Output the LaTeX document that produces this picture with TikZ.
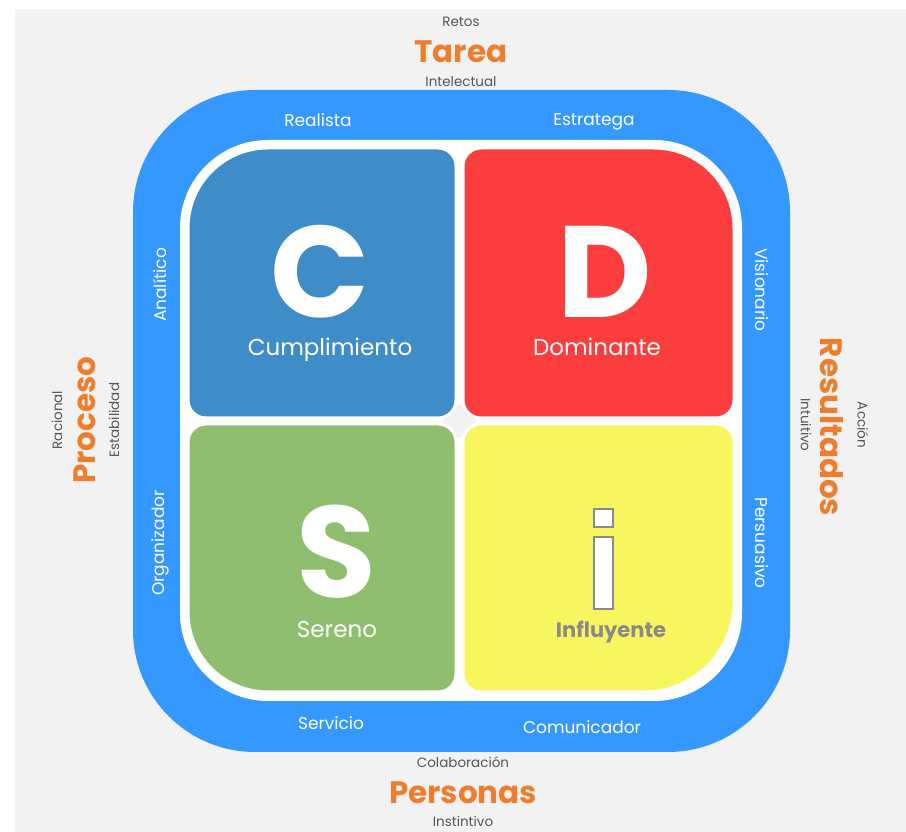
\documentclass[tikz,border=0pt]{standalone}
\usepackage{fontspec}
\setmainfont{Poppins}
\definecolor{bgc}{HTML}{F2F2F2}
\definecolor{ringc}{HTML}{3598FE}
\definecolor{cc}{HTML}{3E8DC9}
\definecolor{dc}{HTML}{FC3D3D}
\definecolor{sc}{HTML}{8FBE6E}
\definecolor{ic}{HTML}{F8F65E}
\definecolor{orc}{HTML}{EE7E2E}
\definecolor{grc}{HTML}{555555}
\definecolor{igr}{HTML}{8A8A8A}
% #1 x1, #2 ybottom, #3 x2, #4 ytop, #5 rTL, #6 rTR, #7 rBR, #8 rBL
\newcommand{\quadshape}[8]{(#1,{#2+#8}) -- (#1,{#4-#5}) arc[start angle=180,end angle=90,radius=#5pt] -- ({#3-#6},#4) arc[start angle=90,end angle=0,radius=#6pt] -- (#3,{#2+#7}) arc[start angle=0,end angle=-90,radius=#7pt] -- ({#1+#8},#2) arc[start angle=-90,end angle=-180,radius=#8pt] -- cycle}
\begin{document}
\begin{tikzpicture}[x=1pt,y=1pt,
  small/.style={text=grc,inner sep=0pt,font=\fontsize{13.5}{15}\selectfont},
  big/.style={text=orc,inner sep=0pt,font=\fontsize{31}{36}\selectfont\bfseries},
  ringlbl/.style={text=white,inner sep=0pt,font=\fontsize{17}{20}\selectfont},
  letter/.style={text=white,inner sep=0pt,anchor=base,text height=92pt,text depth=0pt,font=\fontsize{130}{140}\selectfont\bfseries},
  qlbl/.style={text=white,inner sep=0pt,text height=16pt,text depth=4pt,font=\fontsize{23}{26}\selectfont},
  quadbox/.style={draw=white,line width=3pt}]
\useasboundingbox (0,0) rectangle (906,832);
\fill[white] (0,0) rectangle (906,832);
\fill[bgc] (15,0) rectangle (906,823);
% outer ring
\fill[ringc, rounded corners=122pt] (133,80) rectangle (790,742);
\fill[white, rounded corners=88pt] (180,131) rectangle (742,692);
\fill[bgc] (459.5,411) circle (16pt);
% quadrants
\filldraw[fill=cc,quadbox] \quadshape{188}{414}{456}{684}{80}{18}{18}{18};
\filldraw[fill=dc,quadbox] \quadshape{463}{414}{734}{684}{18}{80}{18}{18};
\filldraw[fill=sc,quadbox] \quadshape{188}{140}{456}{408}{18}{18}{18}{80};
\filldraw[fill=ic,quadbox] \quadshape{463}{140}{734}{408}{18}{18}{90}{18};
% big letters
\node[letter] (lc) at (320,514) {C};
\node[letter] (ld) at (605,514) {D};
\node[letter] (ls) at (336,234) {S};
% the i
\filldraw[fill=white,draw=igr,line width=1.2pt] (594,305) rectangle (613,323);
\filldraw[fill=white,draw=igr,line width=1.2pt] (594,223) rectangle (613,295);
% quadrant labels
\node[qlbl] (tc) at (330,482) {Cumplimiento};
\node[qlbl] (td) at (597,482) {Dominante};
\node[qlbl] (ts) at (337,200) {Sereno};
\node[qlbl,text=igr,font=\fontsize{21}{24}\selectfont\bfseries] (ti) at (611,200) {Influyente};
% ring labels
\node[ringlbl] (r1) at (318,712) {Realista};
\node[ringlbl] (r2) at (594,710) {Estratega};
\node[ringlbl,rotate=90] (r3) at (160,547) {Analítico};
\node[ringlbl,rotate=90] (r4) at (160,289) {Organizador};
\node[ringlbl,rotate=-90] (r5) at (762,542) {Visionario};
\node[ringlbl,rotate=-90] (r6) at (762,289) {Persuasivo};
\node[ringlbl] (r7) at (331,109) {Servicio};
\node[ringlbl] (r8) at (582,105) {Comunicador};
% outside labels
\node[small] (o1) at (461,810) {Retos};
\node[big] (o2) at (461,780) {Tarea};
\node[small] (o3) at (461,750) {Intelectual};
\node[small] (o4) at (463,70) {Colaboración};
\node[big] (o5) at (463,39) {Personas};
\node[small] (o6) at (463,11) {Instintivo};
\node[small,rotate=90] (o7) at (57,412) {Racional};
\node[big,rotate=90] (o8) at (85,412) {Proceso};
\node[small,rotate=90] (o9) at (114,412) {Estabilidad};
\node[big,rotate=-90] (o10) at (832,405) {Resultados};
\node[small,rotate=-90] (o11) at (806,407) {Intuitivo};
\node[small,rotate=-90] (o12) at (863,407) {Acción};
\end{tikzpicture}
\end{document}
